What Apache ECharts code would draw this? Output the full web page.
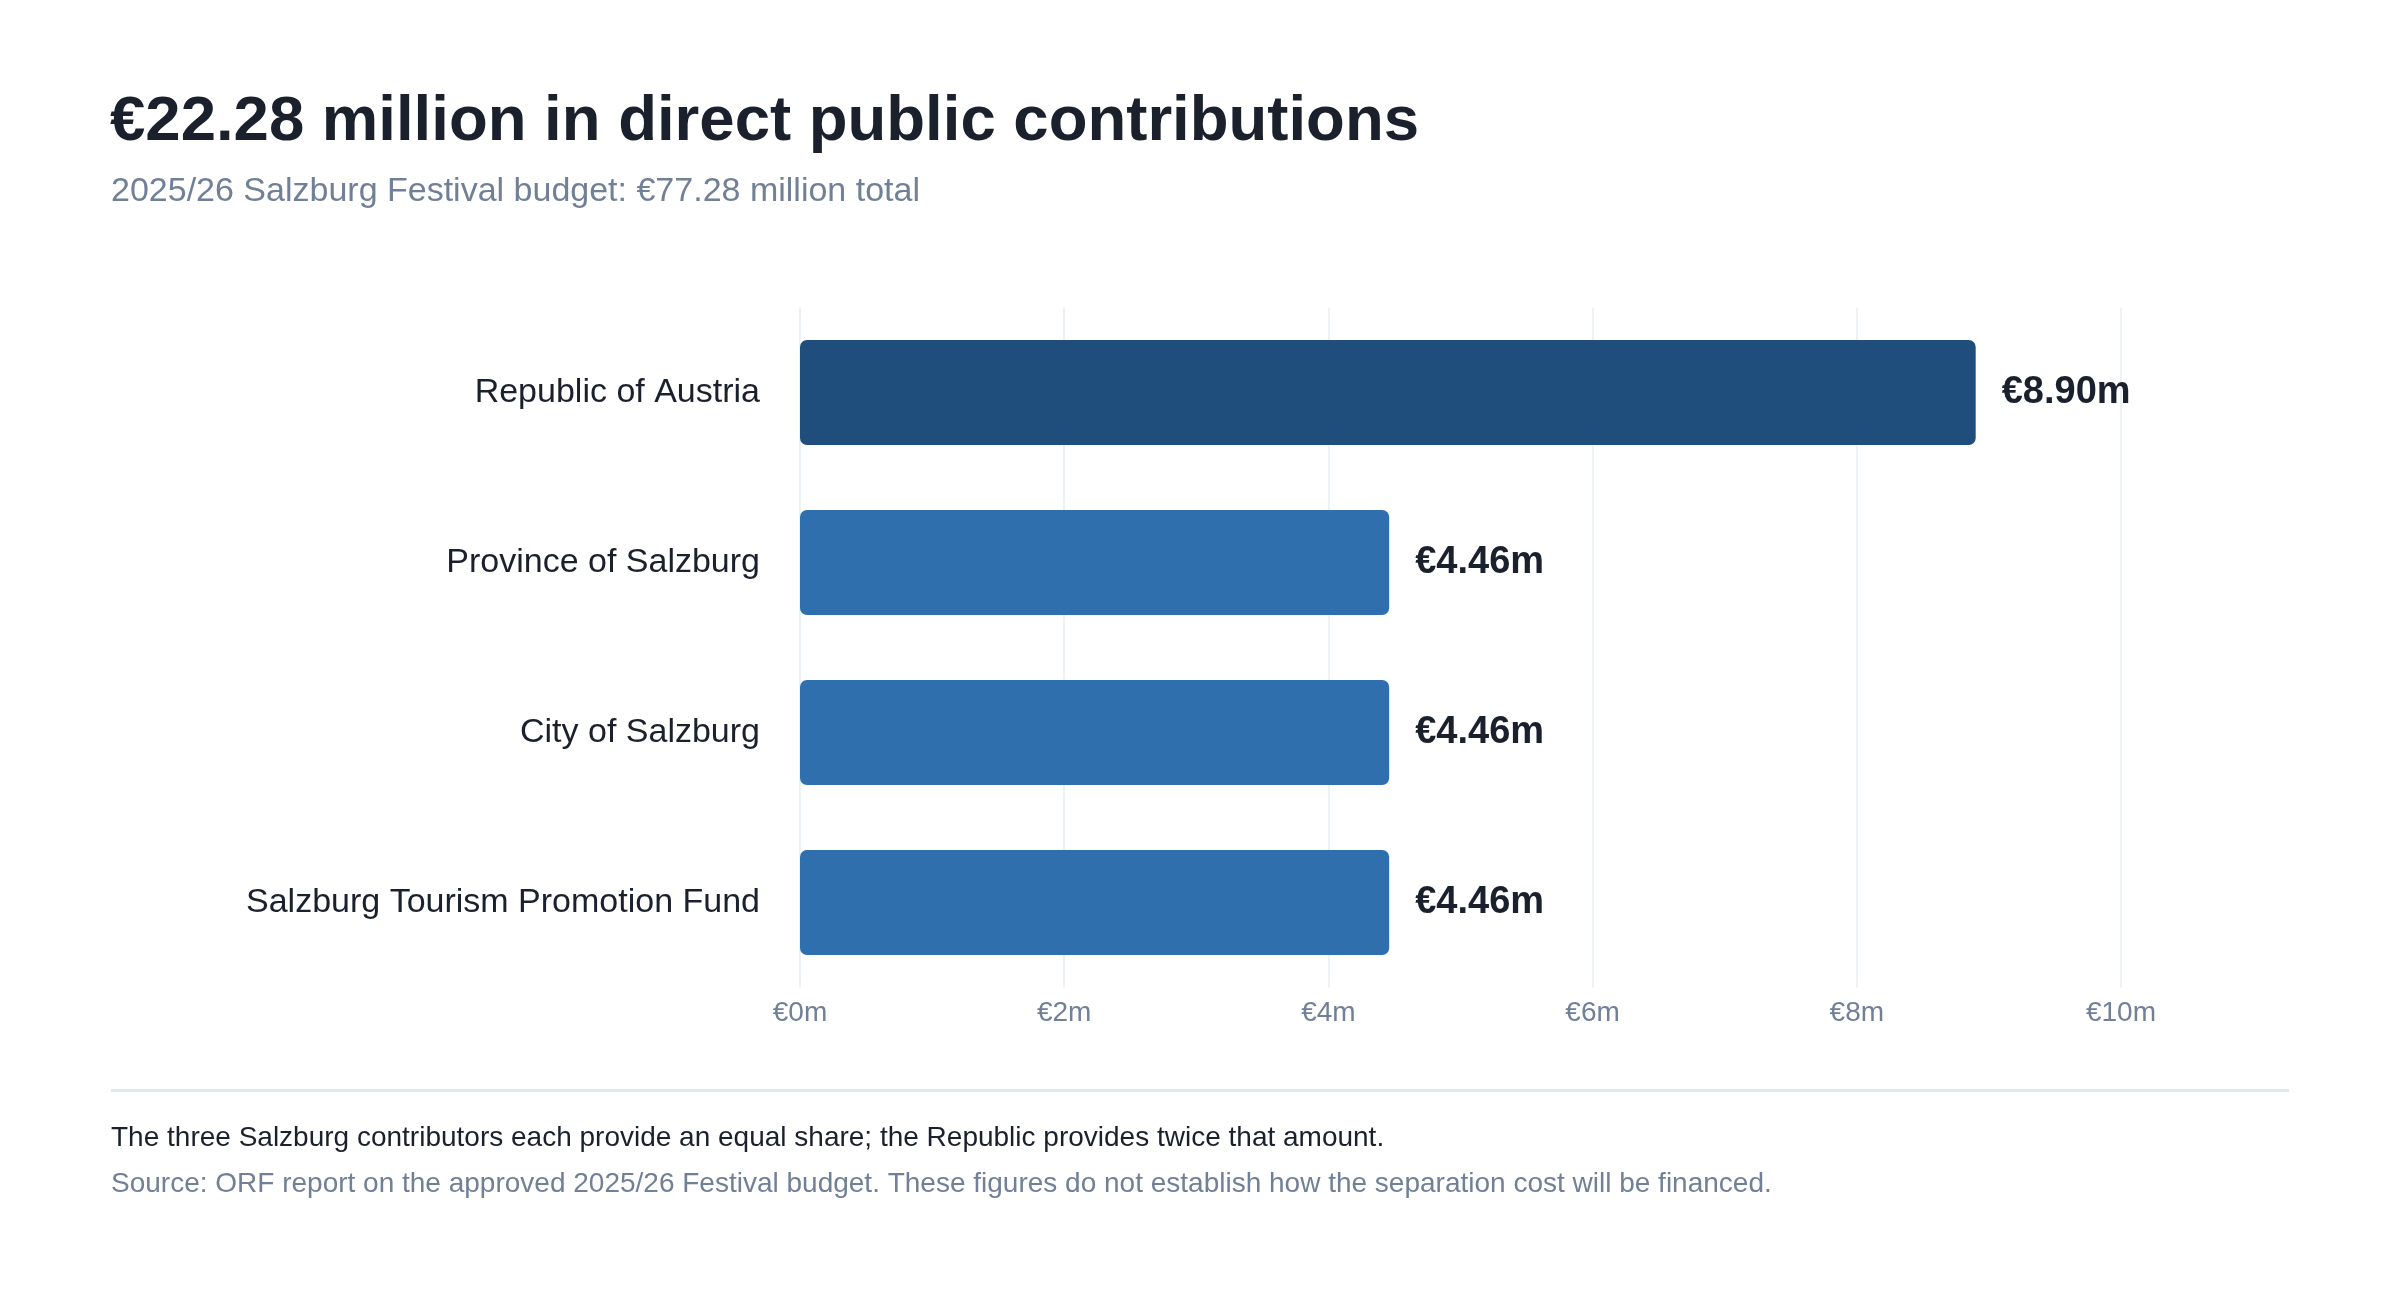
<!DOCTYPE html>
<html>
<head>
<meta charset="utf-8">
<script src="https://cdn.jsdelivr.net/npm/echarts@6/dist/echarts.min.js"></script>
<style>
html,body{margin:0;padding:0;background:#ffffff;}
#chart{width:2400px;height:1300px;}
</style>
</head>
<body>
<div id="chart"></div>
<script>
const categories = ["Republic of Austria", "Province of Salzburg", "City of Salzburg", "Salzburg Tourism Promotion Fund"];
const values = [8.90, 4.46, 4.46, 4.46];
const tickValues = [0, 2, 4, 6, 8, 10];
const titleText = "€22.28 million in direct public contributions";
const subtitleText = "2025/26 Salzburg Festival budget: €77.28 million total";
const noteText = "The three Salzburg contributors each provide an equal share; the Republic provides twice that amount.";
const sourceText = "Source: ORF report on the approved 2025/26 Festival budget. These figures do not establish how the separation cost will be financed.";

const FONT = '"Liberation Sans", Helvetica, Arial, sans-serif';
const chart = echarts.init(document.getElementById('chart'), null, {renderer: 'canvas'});

chart.setOption({
  backgroundColor: '#ffffff',
  animation: false,
  textStyle: {fontFamily: FONT},
  title: [
    {text: titleText, left: 110, top: 90, padding: 0,
     textStyle: {fontFamily: FONT, fontSize: 63.5, fontWeight: 'bold', color: '#1a202c', lineHeight: 64}},
    {text: subtitleText, left: 111, top: 175, padding: 0,
     textStyle: {fontFamily: FONT, fontSize: 34, fontWeight: 'normal', color: '#718096', lineHeight: 34}},
    {text: noteText, left: 111, top: 1124, padding: 0,
     textStyle: {fontFamily: FONT, fontSize: 28, fontWeight: 'normal', color: '#1a202c', lineHeight: 28}},
    {text: sourceText, left: 111, top: 1170, padding: 0,
     textStyle: {fontFamily: FONT, fontSize: 28, fontWeight: 'normal', color: '#718096', lineHeight: 28}}
  ],
  graphic: [
    {type: 'rect', shape: {x: 111, y: 1089, width: 2178, height: 3}, style: {fill: '#e2e8f0'}, silent: true}
  ],
  grid: {left: 800, width: 1321, top: 307.5, height: 680, containLabel: false},
  xAxis: {
    type: 'value',
    min: tickValues[0],
    max: tickValues[tickValues.length - 1],
    interval: tickValues[1] - tickValues[0],
    axisLine: {show: false},
    axisTick: {show: false},
    splitLine: {show: true, lineStyle: {color: '#edf2f7', width: 2}},
    axisLabel: {
      margin: 12,
      color: '#718096',
      fontSize: 28,
      fontFamily: FONT,
      formatter: v => '€' + v + 'm'
    }
  },
  yAxis: {
    type: 'category',
    data: categories,
    inverse: true,
    axisLine: {show: false},
    axisTick: {show: false},
    splitLine: {show: false},
    axisLabel: {margin: 40, color: '#1a202c', fontSize: 34, fontFamily: FONT}
  },
  series: [{
    type: 'bar',
    data: values,
    barWidth: 105,
    itemStyle: {
      borderRadius: 7,
      color: p => p.dataIndex === 0 ? '#1f4e7d' : '#2f6fad'
    },
    label: {
      show: true,
      position: 'right',
      distance: 26,
      color: '#1a202c',
      fontSize: 38,
      fontWeight: 'bold',
      fontFamily: FONT,
      formatter: p => '€' + p.value.toFixed(2) + 'm'
    }
  }]
});
</script>
</body>
</html>
